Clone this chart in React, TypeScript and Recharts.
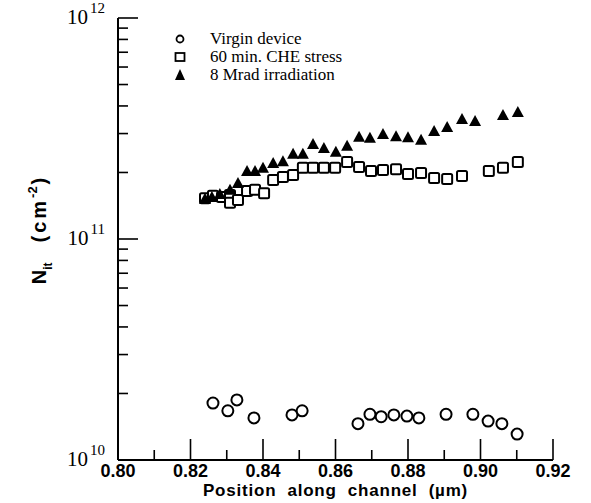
import { ScatterChart, Scatter, XAxis, YAxis } from "recharts";

// Position along channel (µm) and interface trap density (cm^-2) for each device condition
const posVirgin = [0.8262, 0.8303, 0.8328, 0.8375, 0.848, 0.8508, 0.8662, 0.8695, 0.8726, 0.8761, 0.8797, 0.883, 0.8905, 0.8979, 0.9021, 0.9059, 0.9101];
const nitVirgin = [1.81e10, 1.67e10, 1.87e10, 1.55e10, 1.6e10, 1.67e10, 1.46e10, 1.61e10, 1.57e10, 1.6e10, 1.58e10, 1.55e10, 1.61e10, 1.61e10, 1.5e10, 1.46e10, 1.31e10];

const posStress = [0.824, 0.8262, 0.8287, 0.8309, 0.8309, 0.8331, 0.8356, 0.8378, 0.8403, 0.8428, 0.8455, 0.8483, 0.851, 0.8538, 0.8568, 0.8599, 0.8632, 0.8665, 0.8698, 0.8731, 0.8767, 0.88, 0.8836, 0.8872, 0.8908, 0.8949, 0.9023, 0.9062, 0.9103];
const nitStress = [1.53e11, 1.57e11, 1.55e11, 1.58e11, 1.46e11, 1.5e11, 1.65e11, 1.67e11, 1.61e11, 1.85e11, 1.91e11, 1.95e11, 2.1e11, 2.1e11, 2.1e11, 2.1e11, 2.23e11, 2.12e11, 2.03e11, 2.05e11, 2.07e11, 1.97e11, 1.99e11, 1.89e11, 1.87e11, 1.93e11, 2.03e11, 2.1e11, 2.23e11];

const posIrrad = [0.824, 0.8259, 0.8281, 0.8309, 0.8331, 0.8356, 0.8378, 0.84, 0.8428, 0.8455, 0.8483, 0.851, 0.8538, 0.8568, 0.8601, 0.8632, 0.8665, 0.8695, 0.8731, 0.8767, 0.88, 0.8836, 0.8872, 0.8908, 0.8949, 0.8985, 0.9062, 0.9103];
const nitIrrad = [1.52e11, 1.55e11, 1.6e11, 1.67e11, 1.79e11, 2.03e11, 2.03e11, 2.1e11, 2.21e11, 2.25e11, 2.43e11, 2.43e11, 2.69e11, 2.58e11, 2.48e11, 2.64e11, 2.9e11, 2.87e11, 2.99e11, 2.92e11, 2.89e11, 2.81e11, 3.08e11, 3.21e11, 3.49e11, 3.42e11, 3.64e11, 3.76e11];

const legendLabels = ["Virgin device", "60 min. CHE stress", "8 Mrad irradiation"];

const xTicks = [0.8, 0.81, 0.82, 0.83, 0.84, 0.85, 0.86, 0.87, 0.88, 0.89, 0.9, 0.91, 0.92];
const yTicks = [
  1e10, 2e10, 3e10, 4e10, 5e10, 6e10, 7e10, 8e10, 9e10,
  1e11, 2e11, 3e11, 4e11, 5e11, 6e11, 7e11, 8e11, 9e11, 1e12,
];

const W = 591;
const H = 503;
const FRAME = { left: 118, right: 553, top: 18, bottom: 460 };
const SERIF = "'Liberation Serif', 'DejaVu Serif', serif";
const SANS = "'Liberation Sans', Arial, sans-serif";

const toPoints = (xs: number[], ys: number[]) => xs.map((x, i) => ({ x, y: ys[i] }));

const isMajorX = (v: number) => Math.round(v * 100) % 2 === 0;
const isDecade = (v: number) => Math.abs(Math.log10(v) - Math.round(Math.log10(v))) < 1e-6;

function BottomTick(props: any) {
  const { x, payload } = props;
  const major = isMajorX(payload.value);
  return (
    <g>
      <line x1={x} x2={x} y1={FRAME.bottom} y2={FRAME.bottom - (major ? 21 : 10)} stroke="#000" strokeWidth={1.6} />
      {major && (
        <text x={x} y={FRAME.bottom + 17} textAnchor="middle" fontFamily={SANS} fontWeight="bold" fontSize={18} fill="#000">
          {payload.value.toFixed(2)}
        </text>
      )}
    </g>
  );
}

function TopTick(props: any) {
  const { x } = props;
  return <line x1={x} x2={x} y1={FRAME.top} y2={FRAME.top + 5} stroke="#000" strokeWidth={1.3} />;
}

function LeftTick(props: any) {
  const { y, payload } = props;
  const decade = isDecade(payload.value);
  const exp = Math.round(Math.log10(payload.value));
  return (
    <g>
      <line x1={FRAME.left} x2={FRAME.left + (decade ? 20 : 10)} y1={y} y2={y} stroke="#000" strokeWidth={1.6} />
      {decade && (
        <text x={FRAME.left - 13} y={y + 6} textAnchor="end" fontFamily={SERIF} fontSize={21} fill="#000">
          10
          <tspan dx={2} dy={-11} fontSize={15}>
            {exp}
          </tspan>
        </text>
      )}
    </g>
  );
}

function RightTick(props: any) {
  const { y, payload } = props;
  const decade = isDecade(payload.value);
  return <line x1={FRAME.right} x2={FRAME.right - (decade ? 20 : 10)} y1={y} y2={y} stroke="#000" strokeWidth={1.6} />;
}

const Ring = (props: any) => (
  <circle cx={props.cx} cy={props.cy} r={5.5} fill="#fff" stroke="#000" strokeWidth={2} />
);
const Box = (props: any) => (
  <rect x={props.cx - 5} y={props.cy - 5} width={10} height={10} rx={1.5} fill="#fff" stroke="#000" strokeWidth={2} />
);
const Tri = (props: any) => (
  <polygon
    points={`${props.cx},${props.cy - 6} ${props.cx - 6},${props.cy + 5} ${props.cx + 6},${props.cy + 5}`}
    fill="#000"
  />
);

const yLabel = () => (
  <text
    transform="translate(46 231) rotate(-90)"
    textAnchor="middle"
    fontFamily={SANS}
    fontWeight="bold"
    fontSize={20}
    fill="#000"
  >
    N
    <tspan dy={6} fontSize={12}>it</tspan>
    <tspan dx={20} dy={-6} letterSpacing={3}>(cm</tspan>
    <tspan dy={-9} fontSize={13}>-2</tspan>
    <tspan dx={2} dy={9}>)</tspan>
  </text>
);

const xLabel = () => (
  <text
    x={(FRAME.left + FRAME.right) / 2}
    y={H - 7}
    textAnchor="middle"
    fontFamily={SANS}
    fontWeight="bold"
    fontSize={17}
    letterSpacing={0.8}
    fill="#000"
    style={{ whiteSpace: "pre" }}
  >
    {"Position  along  channel  (\u00b5m)"}
  </text>
);

function LegendBox() {
  const icons = [
    <circle cx={8} cy={8} r={3.5} fill="#fff" stroke="#000" strokeWidth={1.8} />,
    <rect x={3.5} y={4} width={9} height={8} fill="#fff" stroke="#000" strokeWidth={1.8} />,
    <polygon points="8,2 3,13 13,13" fill="#000" />,
  ];
  return (
    <div style={{ position: "absolute", left: 172, top: 30, fontFamily: SERIF, fontSize: 17, color: "#000" }}>
      {legendLabels.map((label, i) => (
        <div key={label} style={{ display: "flex", alignItems: "center", height: 18 }}>
          <svg width={16} height={16} style={{ marginRight: 22 }}>
            {icons[i]}
          </svg>
          <span>{label}</span>
        </div>
      ))}
    </div>
  );
}

export default function App() {
  return (
    <div style={{ position: "absolute", left: 0, top: 0, width: W, height: H, background: "#fff" }}>
      <ScatterChart
        width={W}
        height={H}
        margin={{ top: FRAME.top, right: W - FRAME.right, bottom: 0, left: 0 }}
      >
        <XAxis
          type="number"
          dataKey="x"
          domain={[0.8, 0.92]}
          ticks={xTicks}
          allowDataOverflow
          height={H - FRAME.bottom}
          tickLine={false}
          tick={<BottomTick />}
          interval={0}
          axisLine={{ stroke: "#000", strokeWidth: 2 }}
          label={{ content: xLabel }}
        />
        <XAxis
          xAxisId="top"
          orientation="top"
          type="number"
          dataKey="x"
          domain={[0.8, 0.92]}
          ticks={xTicks}
          allowDataOverflow
          height={0}
          tickLine={false}
          tick={<TopTick />}
          interval={0}
          axisLine={{ stroke: "#000", strokeWidth: 2 }}
        />
        <YAxis
          type="number"
          dataKey="y"
          scale="log"
          domain={[1e10, 1e12]}
          ticks={yTicks}
          allowDataOverflow
          width={FRAME.left}
          tickLine={false}
          tick={<LeftTick />}
          interval={0}
          axisLine={{ stroke: "#000", strokeWidth: 2 }}
          label={{ content: yLabel }}
        />
        <YAxis
          yAxisId="right"
          orientation="right"
          type="number"
          dataKey="y"
          scale="log"
          domain={[1e10, 1e12]}
          ticks={yTicks}
          allowDataOverflow
          width={0}
          tickLine={false}
          tick={<RightTick />}
          interval={0}
          axisLine={{ stroke: "#000", strokeWidth: 2 }}
        />
        <Scatter data={toPoints(posVirgin, nitVirgin)} shape={Ring} isAnimationActive={false} />
        <Scatter data={toPoints(posStress, nitStress)} shape={Box} isAnimationActive={false} />
        <Scatter data={toPoints(posIrrad, nitIrrad)} shape={Tri} isAnimationActive={false} />
      </ScatterChart>
      <LegendBox />
    </div>
  );
}
